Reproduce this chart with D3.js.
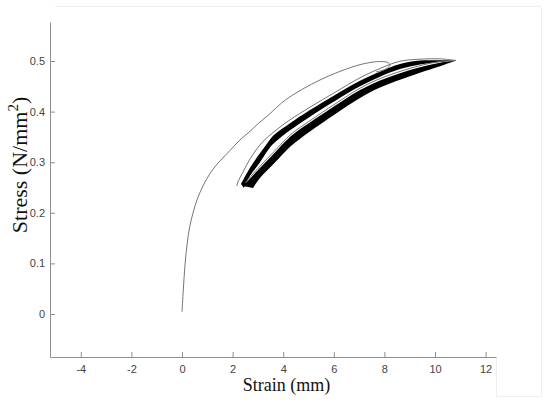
<!DOCTYPE html>
<html><head><meta charset="utf-8">
<script src="https://cdn.jsdelivr.net/npm/d3@7"></script>
<style>body{margin:0;background:#fff}svg{display:block}</style></head>
<body>
<svg id="c" width="550" height="402"></svg>
<script>
// ---- data (strain mm, stress N/mm^2) ----
const xTicks = [-4, -2, 0, 2, 4, 6, 8, 10, 12];
const yTicks = [0, 0.1, 0.2, 0.3, 0.4, 0.5];

// first loading curve + first unloading return
const firstCycle = [
  [0.000,0.0045],[0.051,0.0474],[0.119,0.0968],[0.198,0.1364],[0.296,0.1700],
  [0.435,0.1996],[0.593,0.2253],[0.830,0.2530],[1.174,0.2826],[1.502,0.3024],
  [1.897,0.3231],[2.292,0.3440],[2.688,0.3610],[3.004,0.3760],[3.399,0.3925],
  [4.138,0.4249],[5.455,0.4625],[6.759,0.4887],[7.431,0.4970],[7.905,0.4990],
  [8.142,0.4970],[8.221,0.4921],[8.103,0.4852],[7.905,0.4812],[7.668,0.4783]
];
// outer unloading branch (thin line above the upper band)
const outerUnload = [
  [10.830,0.501],[10.198,0.5043],[9.407,0.5036],[8.617,0.4996],[7.826,0.4852],
  [7.036,0.4668],[6.047,0.4381],[5.059,0.4087],[4.269,0.3838],[3.676,0.3617],
  [3.202,0.3409],[2.925,0.3241],[2.688,0.3063],[2.411,0.2806],[2.194,0.2589],[2.174,0.2530]
];
// upper band of repeated cycles (edges)
const upperBandTop = [
  [2.332,0.257],[2.688,0.289],[3.043,0.315],[3.320,0.334],[3.557,0.350],[3.874,0.363],
  [4.269,0.377],[5.059,0.403],[6.047,0.433],[7.036,0.461],[7.826,0.479],[8.617,0.494],
  [9.407,0.501],[10.198,0.5015],[10.830,0.501]
];
const upperBandBottom = [
  [2.451,0.249],[2.688,0.273],[3.043,0.297],[3.320,0.318],[3.557,0.334],[3.874,0.348],
  [4.269,0.363],[5.059,0.390],[6.047,0.421],[7.036,0.450],[7.826,0.469],[8.617,0.484],
  [9.407,0.493],[10.198,0.498],[10.830,0.501]
];
// lower band of repeated cycles (edges)
const lowerBandTop = [
  [2.411,0.253],[3.083,0.2885],[3.636,0.3172],[4.308,0.3518],[5.059,0.3785],
  [6.047,0.4115],[7.036,0.4427],[7.826,0.4617],[8.617,0.4759],[9.407,0.4877],
  [10.198,0.4966],[10.830,0.501]
];
const lowerBandBottom = [
  [2.806,0.249],[3.083,0.2688],[3.636,0.2974],[4.308,0.3320],[5.059,0.3607],
  [6.047,0.3949],[7.036,0.4269],[7.826,0.4474],[8.617,0.4628],[9.407,0.4767],
  [10.198,0.4895],[10.830,0.501]
];
// thin line running in the gap, on the lower band's top side
const lowerEdge = [
  [2.490,0.2589],[3.083,0.2921],[3.636,0.3208],[4.308,0.3553],[5.059,0.3820],
  [6.047,0.4150],[7.036,0.4462],[7.826,0.4652],[8.617,0.4794],[9.407,0.4909],
  [10.198,0.4990],[10.830,0.501]
];

// ---- chart ----
const svg = d3.select('#c');
const x = d3.scaleLinear().domain([-5.217, 12.411]).range([50, 496]);
const y = d3.scaleLinear().domain([-0.0850, 0.5771]).range([357, 22]);

// faint frame
svg.append('path').attr('d','M55,6.5H541.5V396.5H496.5V357')
  .attr('fill','none').attr('stroke','#efefef').attr('stroke-width',1);

const line = d3.line().x(d=>x(d[0])).y(d=>y(d[1])).curve(d3.curveCatmullRom.alpha(0.5));

function band(top, bottom){
  const a = line(top);
  const b = line(bottom.slice().reverse()).replace(/^M/, 'L');
  return a + b + 'Z';
}

const g = svg.append('g');
g.append('path').attr('d', band(upperBandTop, upperBandBottom)).attr('fill','#000');
g.append('path').attr('d', band(lowerBandTop, lowerBandBottom)).attr('fill','#000');

[firstCycle, outerUnload, lowerEdge].forEach(s=>{
  g.append('path').attr('d', line(s)).attr('fill','none')
    .attr('stroke','#666').attr('stroke-width',0.9);
});

// axes
const ax = svg.append('g').attr('transform','translate(0,357)')
  .call(d3.axisBottom(x).tickValues(xTicks).tickSizeInner(-5).tickSizeOuter(0)
    .tickPadding(8).tickFormat(d=>String(d)));
const ay = svg.append('g').attr('transform','translate(50,0)')
  .call(d3.axisLeft(y).tickValues(yTicks).tickSizeInner(-5).tickSizeOuter(0)
    .tickPadding(5).tickFormat(d=>String(d)));
[ax, ay].forEach(a=>{
  a.select('.domain').attr('stroke','#8f8f8f');
  a.selectAll('.tick line').attr('stroke','#8f8f8f');
  a.selectAll('.tick text').attr('fill','#444')
    .style('font-family','Arial, "Liberation Sans", sans-serif').style('font-size','11px');
});

// titles
svg.append('text').attr('x',286.5).attr('y',391).attr('text-anchor','middle')
  .style('font-family','"Times New Roman", "Liberation Serif", serif').style('font-size','18px')
  .attr('fill','#111').text('Strain (mm)');

const yt = svg.append('text').attr('transform','translate(27,165) rotate(-90)')
  .attr('text-anchor','middle')
  .style('font-family','"Times New Roman", "Liberation Serif", serif').style('font-size','22px')
  .attr('fill','#111');
yt.append('tspan').text('Stress (N/mm');
yt.append('tspan').attr('dy',-9).style('font-size','15px').text('2');
yt.append('tspan').attr('dy',9).text(')');
</script>
</body></html>
